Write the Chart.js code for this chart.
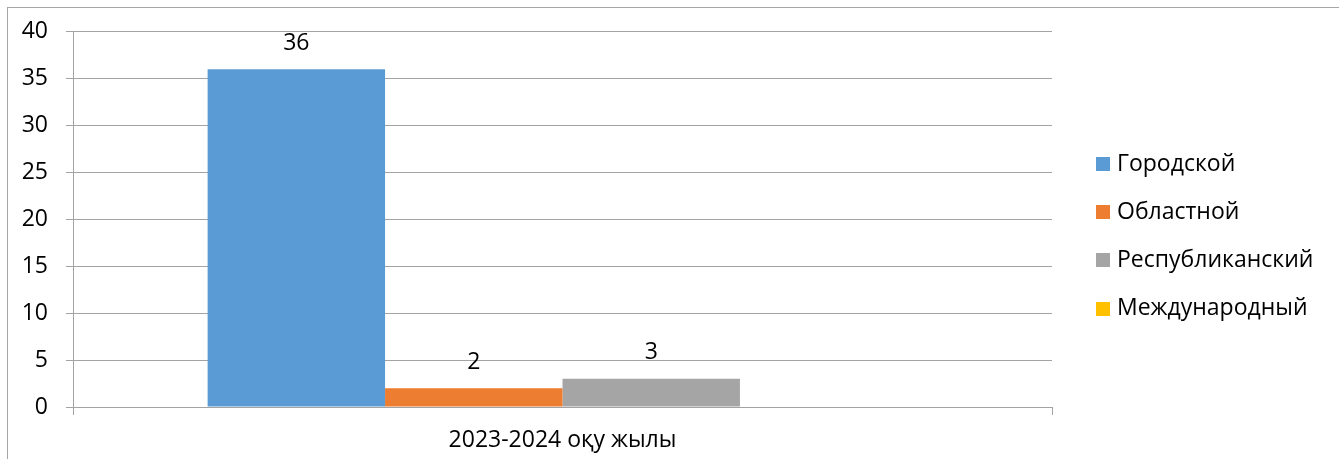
<!DOCTYPE html>
<html>
<head>
<meta charset="utf-8">
<script src="https://cdn.jsdelivr.net/npm/chart.js@4"></script>
<style>
  html, body { margin: 0; padding: 0; background: #fff; }
  #wrap { width: 1339px; height: 459px; position: relative; }
</style>
</head>
<body>
<div id="wrap"><canvas id="c" width="1339" height="459"></canvas></div>
<script>
const categories = ["2023-2024 оқу жылы"];
const seriesNames = ["Городской", "Областной", "Республиканский", "Международный"];
const seriesValues = [[36], [2], [3], [0]];
const seriesColors = ["#5B9BD5", "#ED7D31", "#A5A5A5", "#FFC000"];
const yTicks = [0, 5, 10, 15, 20, 25, 30, 35, 40];

const FONT = "'Open Sans', 'Noto Sans', sans-serif";
const GRID = "#a3a3a3";
const TEXT = "#000000";

const borderPlugin = {
  id: 'outerBorder',
  beforeDraw(chart) {
    const ctx = chart.ctx;
    ctx.save();
    ctx.fillStyle = '#fff';
    ctx.fillRect(0, 0, chart.width, chart.height);
    ctx.strokeStyle = '#a6a6a6';
    ctx.lineWidth = 1;
    ctx.strokeRect(7.5, 7.5, chart.width + 10, chart.height + 10);
    ctx.restore();
  }
};

const labelPlugin = {
  id: 'valueLabels',
  afterDatasetsDraw(chart) {
    const ctx = chart.ctx;
    ctx.save();
    ctx.font = "23px " + FONT;
    ctx.fillStyle = TEXT;
    ctx.textAlign = 'center';
    ctx.textBaseline = 'middle';
    chart.data.datasets.forEach((ds, i) => {
      const meta = chart.getDatasetMeta(i);
      meta.data.forEach((bar, j) => {
        const v = ds.data[j];
        if (!v) return;
        ctx.fillText(String(v), bar.x, bar.y - 26);
      });
    });
    ctx.restore();
  }
};

const legendPlugin = {
  id: 'sideLegend',
  afterDraw(chart) {
    const ctx = chart.ctx;
    ctx.save();
    ctx.font = "23px " + FONT;
    ctx.textAlign = 'left';
    ctx.textBaseline = 'middle';
    chart.data.datasets.forEach((ds, i) => {
      const yc = 164 + i * 48.2;
      ctx.fillStyle = ds.backgroundColor;
      ctx.fillRect(1096, Math.round(yc - 7), 14, 14);
      ctx.fillStyle = TEXT;
      ctx.fillText(ds.label, 1117, yc);
    });
    ctx.restore();
  }
};

new Chart(document.getElementById('c'), {
  type: 'bar',
  data: {
    labels: categories,
    datasets: seriesNames.map((name, i) => ({
      label: name,
      data: seriesValues[i],
      backgroundColor: seriesColors[i],
      borderWidth: 0,
      categoryPercentage: 0.725,
      barPercentage: 1.0
    }))
  },
  options: {
    responsive: false,
    animation: false,
    devicePixelRatio: 1,
    layout: { padding: { left: 0, right: 287, top: 30, bottom: 0 } },
    plugins: {
      legend: { display: false },
      tooltip: { enabled: false }
    },
    scales: {
      x: {
        afterFit(scale) { scale.height = 52; },
        grid: { display: true, drawOnChartArea: false, drawTicks: true, tickLength: 8, color: GRID, offset: true },
        border: { display: true, color: GRID },
        ticks: { color: TEXT, font: { family: FONT, size: 23 }, padding: 12, maxRotation: 0 }
      },
      y: {
        min: 0, max: 40,
        afterBuildTicks(scale) { scale.ticks = yTicks.map(v => ({ value: v })); },
        afterFit(scale) { scale.width = 73; },
        grid: { color: GRID, drawTicks: true, tickLength: 7 },
        border: { display: true, color: GRID },
        ticks: { color: TEXT, font: { family: FONT, size: 23 }, padding: 18 }
      }
    }
  },
  plugins: [borderPlugin, labelPlugin, legendPlugin]
});
</script>
</body>
</html>
